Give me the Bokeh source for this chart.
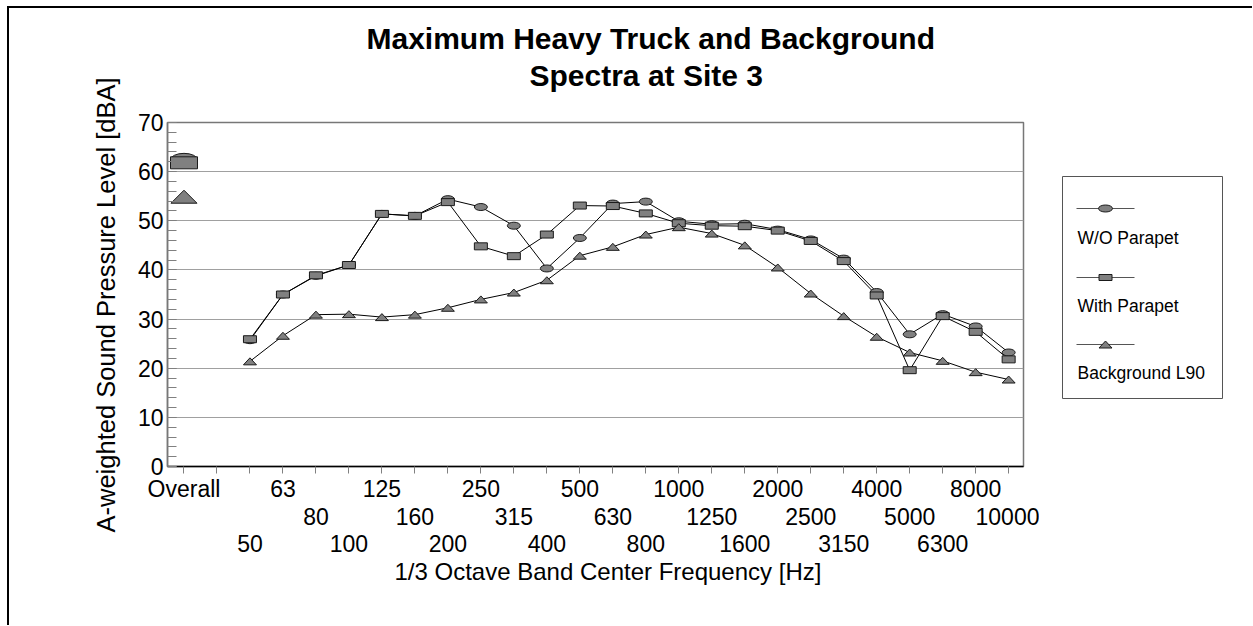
import numpy as np
from bokeh.plotting import figure
from bokeh.models import Range1d, FixedTicker, LinearAxis, Title
from bokeh.layouts import row
from bokeh.embed import file_html
from bokeh.resources import INLINE
from bokeh.core.properties import value

FONT = "Liberation Sans"

# ---------------- data ----------------
bands = ["Overall", "", "50", "63", "80", "100", "125", "160", "200", "250", "315",
         "400", "500", "630", "800", "1000", "1250", "1600", "2000", "2500", "3150",
         "4000", "5000", "6300", "8000", "10000"]
spectrum_bands = bands[2:]

wo_parapet = [25.7, 35.0, 38.8, 41.0, 51.4, 51.0, 54.4, 52.8, 49.0, 40.3, 46.5, 53.5,
              53.9, 49.9, 49.3, 49.4, 48.2, 46.2, 42.3, 35.5, 26.9, 31.0, 28.5, 23.2]
with_parapet = [25.9, 35.0, 38.9, 41.0, 51.4, 51.0, 53.8, 44.8, 42.8, 47.2, 53.1, 53.0,
                51.5, 49.5, 49.0, 48.9, 48.0, 45.9, 41.8, 34.8, 19.6, 30.6, 27.4, 21.8]
background_l90 = [21.4, 26.6, 30.9, 31.0, 30.4, 30.9, 32.3, 34.0, 35.4, 37.9, 42.9, 44.7,
                  47.2, 48.7, 47.4, 45.0, 40.5, 35.2, 30.6, 26.4, 23.2, 21.5, 19.2, 17.7]
overall_wo = [62.4]
overall_with = [61.8]
overall_bg = [54.9]
series_names = ["W/O Parapet", "With Parapet", "Background L90"]
title_lines = ["Maximum Heavy Truck and Background", "Spectra at Site 3"]
y_title = "A-weighted Sound Pressure Level [dBA]"
x_title = "1/3 Octave Band Center Frequency [Hz]"

# ---------------- geometry ----------------
FIG_W, FIG_H = 1030, 617
MB_L, MB_R, MB_T = 158, 16, 114
FRAME_H = 344
MB_B = FIG_H - MB_T - FRAME_H
X0, X1 = -0.5, 25.45
Y0, Y1 = 0, 70
frame_w = FIG_W - MB_L - MB_R
px_x = frame_w / (X1 - X0)
px_y = FRAME_H / (Y1 - Y0)

x_idx = list(range(len(bands)))
x_spec = [bands.index(b) for b in spectrum_bands]
x_overall = [bands.index("Overall")]

MARK_FILL = "#808080"
MARK_LINE = "#1a1a1a"

p = figure(width=FIG_W, height=FIG_H, output_backend="svg", toolbar_location=None,
           x_range=Range1d(X0, X1), y_range=Range1d(Y0, Y1),
           min_border_left=MB_L, min_border_right=MB_R,
           min_border_top=MB_T, min_border_bottom=MB_B,
           x_axis_type=None)
p.background_fill_color = "white"
p.border_fill_color = "white"
p.outline_line_color = "#777777"
p.outline_line_width = 1.5

# y axis
ya = p.yaxis[0]
ya.ticker = FixedTicker(ticks=list(range(0, 71, 10)), minor_ticks=list(range(0, 71, 2)))
ya.major_tick_in = 9
ya.major_tick_out = 0
ya.minor_tick_in = 9
ya.minor_tick_out = 0
ya.major_tick_line_color = "#808080"
ya.minor_tick_line_color = "#808080"
ya.axis_line_color = "#777777"
ya.axis_line_width = 1.5
ya.major_label_text_font = FONT
ya.major_label_text_font_size = "23px"
ya.major_label_text_color = "black"
ya.major_label_standoff = 4

# y axis title (as a side title so it can sit a little below the frame centre)
p.add_layout(Title(text=y_title, align="left", offset=-66, text_font=FONT,
                   text_font_size="25.5px", text_font_style="normal", text_color="black",
                   standoff=30), "left")

p.ygrid.ticker = FixedTicker(ticks=list(range(10, 70, 10)))
p.ygrid.grid_line_color = "#a0a0a0"
p.ygrid.grid_line_width = 1.2

# x axes: three rows of labels
row_standoff = [2, 3, 7]
for r in range(3):
    if r == 0:
        ticks = x_idx
    else:
        ticks = [i for i in x_idx if i % 3 == r and bands[i]]
    overrides = {i: (bands[i] if i % 3 == r else "") for i in ticks}
    ax = LinearAxis(ticker=FixedTicker(ticks=ticks, minor_ticks=[]),
                    major_label_overrides=overrides)
    ax.major_label_text_font = FONT
    ax.major_label_text_font_size = "23px"
    ax.major_label_text_color = "black"
    ax.major_label_standoff = row_standoff[r]
    if r == 0:
        ax.axis_line_color = "black"
        ax.axis_line_width = 1.5
        ax.major_tick_line_color = "#808080"
        ax.major_tick_out = 7
        ax.major_tick_in = 0
    else:
        ax.axis_line_color = None
        ax.major_tick_line_color = None
        ax.major_tick_out = 0
        ax.major_tick_in = 0
    p.add_layout(ax, "below")

p.add_layout(Title(text=x_title, align="left", offset=227,
                   text_font=FONT, text_font_size="24px", text_font_style="normal",
                   text_color="black", standoff=2), "below")

# title: spacer next to the frame, then line 2, then line 1
p.add_layout(Title(text=" ", text_font_size="10px", standoff=17), "above")
title_offsets = [199, 362]
for txt, off in reversed(list(zip(title_lines, title_offsets))):
    p.add_layout(Title(text=txt, align="left", offset=off, text_font=FONT,
                       text_font_size="30px", text_font_style="bold", text_color="black",
                       standoff=2), "above")


def tri_xy(xs, ys, w_px, h_px):
    hw = w_px / 2 / px_x
    hh = h_px / 2 / px_y
    pxs = [[x - hw, x + hw, x] for x in xs]
    pys = [[y - hh, y - hh, y + hh] for y in ys]
    return pxs, pys


# lines
p.line(x_spec, wo_parapet, line_color="black", line_width=1)
p.line(x_spec, with_parapet, line_color="black", line_width=1)
p.line(x_spec, background_l90, line_color="black", line_width=1)

# W/O parapet markers
p.ellipse(x=x_spec, y=wo_parapet, width=13, height=7, width_units="screen",
          height_units="screen", fill_color=MARK_FILL, line_color=MARK_LINE, line_width=1)
p.ellipse(x=x_overall, y=overall_wo, width=27, height=13, width_units="screen",
          height_units="screen", fill_color=MARK_FILL, line_color=MARK_LINE, line_width=1)
# With parapet markers
p.rect(x=x_spec, y=with_parapet, width=13, height=7, width_units="screen",
       height_units="screen", fill_color=MARK_FILL, line_color=MARK_LINE, line_width=1)
p.rect(x=x_overall, y=overall_with, width=27, height=12, width_units="screen",
       height_units="screen", fill_color=MARK_FILL, line_color=MARK_LINE, line_width=1)
# Background markers
txs, tys = tri_xy(x_spec, background_l90, 13, 7)
p.patches(txs, tys, fill_color=MARK_FILL, line_color=MARK_LINE, line_width=1)
txs, tys = tri_xy(x_overall, overall_bg, 26, 13)
p.patches(txs, tys, fill_color=MARK_FILL, line_color=MARK_LINE, line_width=1)

# ---------------- legend figure (same vertical borders as main plot) ----------------
LG_W = 213
lg = figure(width=LG_W, height=FIG_H, output_backend="svg", toolbar_location=None,
            x_range=Range1d(0, LG_W), y_range=Range1d(FRAME_H, 0),
            min_border_left=0, min_border_right=0,
            min_border_top=MB_T, min_border_bottom=MB_B,
            x_axis_type=None, y_axis_type=None)
lg.outline_line_color = None
lg.border_fill_color = "white"
lg.background_fill_color = "white"

# legend box
lg.quad(left=[23], right=[183], top=[54], bottom=[276], fill_color=None,
        line_color="#555555", line_width=1)
line_y = [86, 155, 222]
text_y = [115, 183, 250]
for k, name in enumerate(series_names):
    ly = line_y[k]
    lg.line([37, 95], [ly, ly], line_color="#555555", line_width=1)
    if k == 0:
        lg.ellipse(x=[66], y=[ly], width=14, height=7, width_units="screen",
                   height_units="screen", fill_color=MARK_FILL, line_color=MARK_LINE)
    elif k == 1:
        lg.rect(x=[66], y=[ly], width=13, height=6, width_units="screen",
                height_units="screen", fill_color=MARK_FILL, line_color=MARK_LINE)
    else:
        lg.patches([[59.5, 72.5, 66]], [[ly + 3.5, ly + 3.5, ly - 3.5]],
                   fill_color=MARK_FILL, line_color=MARK_LINE)
    lg.text(x=[38], y=[text_y[k]], text=[name], text_font=value(FONT),
            text_font_size="17.5px", text_baseline="middle", text_align="left",
            text_color="black")

layout = row(p, lg, styles={"border-left": "2px solid black", "border-top": "2px solid black",
                            "margin-left": "7px", "margin-top": "6px"})

open("out.html", "w").write(file_html(layout, INLINE))
